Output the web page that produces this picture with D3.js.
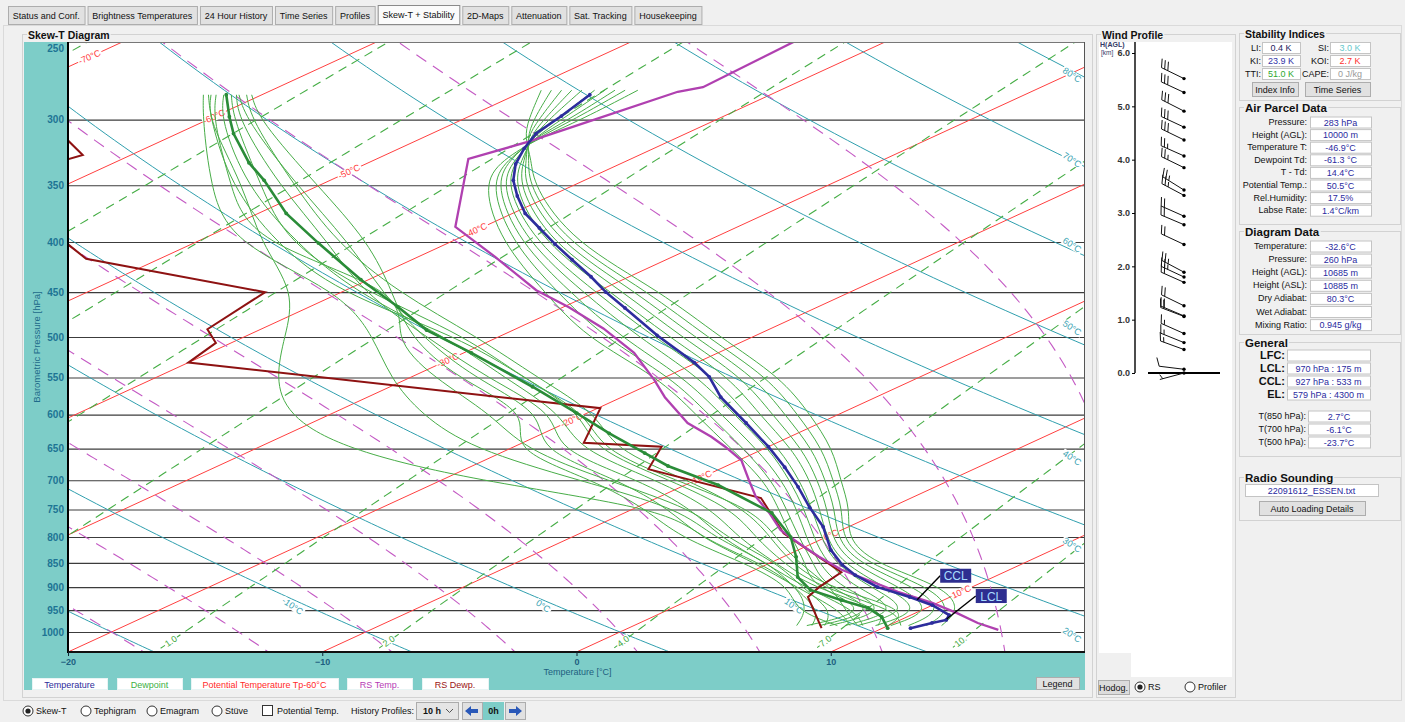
<!DOCTYPE html>
<html>
<head>
<meta charset="utf-8">
<title>Skew-T + Stability</title>
<script src="https://cdn.jsdelivr.net/npm/d3@7"></script>
<style>
  body { margin: 0; background: #f0f0f0; }
  svg { display: block; font-family: "Liberation Sans", Arial, sans-serif; }
</style>
</head>
<body>
<svg id="main" width="1405" height="722"></svg>
<script>

//********************* DATA ************************************

var tabs = ["Status and Conf.", "Brightness Temperatures", "24 Hour History", "Time Series", "Profiles",
            "Skew-T + Stability", "2D-Maps", "Attenuation", "Sat. Tracking", "Housekeeping"];
var activeTab = "Skew-T + Stability";

var pressureTicks = [250, 300, 350, 400, 450, 500, 550, 600, 650, 700, 750, 800, 850, 900, 950, 1000];
var tempTicks = [-20, -10, 0, 10];

var isotherms = [-110, -100, -90, -80, -70, -60, -50, -40, -30, -20, -10, 0, 10, 20];
var dryAdiabats = [-40, -30, -20, -10, 0, 10, 20, 30, 40, 50, 60, 70, 80, 90];
var moistAdiabats = [-20, -15, -10, -5, 0, 5, 10, 15, 20];
var mixingRatios = [0.01, 0.05, 0.1, 0.2, 0.4, 1, 2, 4, 7, 10];
var mixingLabels = [1, 2, 4, 7, 10];
var mixingLabelText = ["1.0", "2.0", "4.0", "7.0", "10."];

// current profile (temperature / dewpoint), hPa and degC
var tempP = [283, 297.5, 310, 321, 333, 346, 359, 374, 387, 402, 417, 434, 450, 467, 498, 531, 549, 576,
             612, 647, 679, 711, 746, 781, 825, 854, 875, 900, 921, 939, 961, 972, 979, 991];
var tempT = [-47.1, -46.4, -45.9, -45.1, -44.1, -42.8, -41.3, -39.5, -37.7, -35.7, -33.7, -31.5, -29.6, -27.5,
             -23.9, -20.1, -18.3, -16.1, -12.9, -10.0, -7.6, -5.4, -3.2, -1.0, 1.3, 3.0, 4.4, 6.3, 8.4, 10.0,
             11.5, 11.8, 11.5, 11.1];

var dewP = [283, 298, 310, 332, 346, 374, 401, 437, 466, 492, 519, 562, 598, 627, 657, 677, 708, 756, 800,
            838, 879, 906, 928, 945, 965, 991];
var dewT = [-61.4, -59.4, -57.8, -54.7, -52.6, -48.9, -45.1, -40.3, -36.5, -33.4, -29.7, -24.4, -20.4, -17.4,
            -14.3, -12.3, -8.7, -4.2, -1.4, 0.5, 2.3, 3.9, 6.0, 7.7, 9.0, 10.2];

// radio sounding
var rsTempP = [250, 278, 281, 300, 316, 329, 386, 414, 448, 466, 490, 519, 553, 576, 612, 632, 647, 668, 700,
               728, 756, 787, 811, 838, 864, 885, 910, 934, 956, 979, 995];
var rsTempT = [-43.6, -43.3, -43.9, -44.8, -45.5, -46.4, -41.1, -37.0, -32.5, -29.8, -26.6, -23.3, -20.2, -18.3,
               -15.2, -13.1, -11.7, -9.9, -7.9, -6.2, -4.3, -2.4, -0.6, 1.4, 3.4, 5.3, 7.5, 9.8, 11.6, 13.3, 14.7];

var rsDewP = [293, 326, 360, 399, 416, 450, 491, 507, 531, 591, 641, 647, 682, 730, 793, 869, 900, 921, 991];
var rsDewT = [-67.6, -61.9, -64.0, -55.3, -52.9, -43.0, -42.1, -40.6, -40.0, -19.9, -17.6, -14.2, -12.8, -5.9,
              -2.0, 3.6, 4.0, 4.4, 7.6];

// history profiles (10 h)
var histP = [280, 300, 313, 330, 350, 400, 450, 500, 550, 600, 650, 700, 750, 800, 850, 900, 950, 985];
var histTemp = [
  [-49.4, -47.4, -46.0, -43.8, -41.6, -35.2, -27.4, -21.3, -15.4, -11.1, -7.3, -4.3, -1.4, 0.8, 4.0, 9.0, 11.5, 12.1],
  [-49.0, -47.2, -45.9, -43.9, -41.8, -35.5, -27.9, -21.8, -15.9, -11.6, -7.7, -4.6, -1.7, 0.6, 3.7, 8.4, 11.2, 11.5],
  [-48.6, -47.0, -45.9, -44.0, -42.0, -35.8, -28.4, -22.3, -16.4, -12.1, -8.1, -4.9, -2.0, 0.4, 3.4, 7.8, 10.9, 10.8],
  [-48.2, -46.8, -45.8, -44.1, -42.2, -36.1, -28.9, -22.8, -16.9, -12.6, -8.5, -5.2, -2.3, 0.2, 3.1, 7.2, 10.5, 10.1],
  [-47.8, -46.6, -45.7, -44.2, -42.4, -36.4, -29.4, -23.3, -17.4, -13.1, -8.9, -5.5, -2.6, 0.0, 2.8, 6.6, 10.1, 9.5],
  [-47.3, -46.3, -45.7, -44.4, -42.7, -36.7, -30.0, -23.9, -18.0, -13.6, -9.4, -5.9, -2.9, -0.2, 2.5, 6.0, 9.7, 8.8],
  [-46.9, -46.1, -45.6, -44.5, -42.9, -37.0, -30.5, -24.5, -18.6, -14.1, -9.8, -6.3, -3.2, -0.5, 2.2, 5.4, 9.3, 8.3],
  [-46.5, -45.8, -45.6, -44.7, -43.1, -37.3, -31.0, -25.2, -19.2, -14.6, -10.3, -6.6, -3.5, -0.8, 1.9, 4.8, 8.9, 7.7],
  [-46.1, -45.6, -45.5, -44.8, -43.3, -37.6, -31.5, -25.9, -19.7, -15.1, -10.8, -7.0, -3.9, -1.1, 1.7, 4.2, 8.5, 7.3],
  [-45.6, -45.3, -45.4, -45.0, -43.6, -38.0, -32.0, -26.6, -20.2, -15.6, -11.3, -7.3, -4.2, -1.4, 1.4, 3.7, 8.2, 6.8]
];
var histDewP = [283, 300, 350, 400, 450, 500, 550, 600, 650, 700, 750, 800, 850, 900, 950, 985];
var histDew = [
  [-62.0, -60.0, -53.0, -47.5, -41.8, -38.4, -35.3, -31.7, -26.6, -18.8, -8.5, -5.0, -0.4, 3.2, 5.5, 6.4],
  [-62.3, -60.2, -54.3, -48.7, -40.0, -34.9, -30.8, -26.4, -21.5, -14.6, -8.0, -4.5, 0.0, 3.0, 6.0, 7.0],
  [-61.8, -59.8, -53.5, -47.9, -37.3, -34.2, -29.1, -23.6, -19.5, -13.5, -7.5, -4.0, 0.3, 3.3, 6.5, 7.5],
  [-60.4, -58.0, -50.1, -43.2, -38.0, -33.5, -28.2, -22.0, -20.1, -14.0, -9.4, -5.8, -1.0, 2.9, 5.0, 8.0],
  [-60.9, -58.5, -50.9, -44.0, -38.4, -33.0, -27.5, -21.5, -19.0, -13.0, -8.5, -5.0, -0.6, 3.1, 6.8, 8.5],
  [-61.0, -58.8, -51.6, -44.8, -39.2, -32.8, -27.0, -21.0, -18.3, -12.2, -7.6, -4.2, -0.2, 3.4, 7.4, 9.0],
  [-61.5, -59.5, -52.9, -46.1, -39.5, -32.0, -26.3, -20.8, -17.4, -11.5, -6.8, -3.5, 0.2, 3.7, 8.6, 9.6],
  [-62.1, -59.9, -53.5, -46.9, -40.2, -31.5, -25.5, -20.0, -16.8, -11.0, -6.0, -2.8, 0.5, 4.0, 9.0, 10.5],
  [-60.6, -58.3, -51.0, -44.5, -37.8, -30.8, -25.0, -19.4, -16.0, -10.3, -5.5, -2.2, 0.8, 4.3, 9.6, 10.0],
  [-61.2, -59.0, -52.3, -46.5, -39.0, -31.2, -25.6, -19.8, -16.5, -10.8, -5.2, -2.0, 1.1, 4.5, 7.0, 8.8]
];

var lclP = 970, cclP = 927;

// wind profile: height km, direction deg, speed kn
var windH = [5.52, 5.26, 4.91, 4.61, 4.37, 4.07, 3.85, 3.43, 3.33, 2.94, 2.78, 2.41, 1.89, 1.80, 1.70,
             1.26, 1.07, 1.06, 0.74, 0.57, 0.44, 0.07, 0.0];
var windDir = [296, 295, 297, 295, 296, 294, 296, 302, 298, 294, 293, 295, 298, 295, 294, 296, 293, 291,
               294, 292, 290, 277, 255];
var windSpd = [30, 30, 30, 30, 30, 25, 25, 25, 25, 20, 20, 20, 25, 25, 20, 20, 20, 20, 15, 15, 15, 10, 5];
var windTicks = [0, 1, 2, 3, 4, 5, 6];

var stability = [["LI:", "0.4 K", "#1c1c5c", "SI:", "3.0 K", "#66c8cc"],
                 ["KI:", "23.9 K", "#3434a8", "KOI:", "2.7 K", "#ff3030"],
                 ["TTI:", "51.0 K", "#2ea82e", "CAPE:", "0 J/kg", "#9a9a9a"]];
var parcelLabels = ["Pressure:", "Height (AGL):", "Temperature T:", "Dewpoint Td:", "T - Td:",
                    "Potential Temp.:", "Rel.Humidity:", "Labse Rate:"];
var parcelValues = ["283 hPa", "10000 m", "-46.9°C", "-61.3 °C", "14.4°C", "50.5°C", "17.5%", "1.4°C/km"];
var diagramLabels = ["Temperature:", "Pressure:", "Height (AGL):", "Height (ASL):", "Dry Adiabat:",
                     "Wet Adiabat:", "Mixing Ratio:"];
var diagramValues = ["-32.6°C", "260 hPa", "10685 m", "10885 m", "80.3°C", "", "0.945 g/kg"];
var levelLabels = ["LFC:", "LCL:", "CCL:", "EL:"];
var levelValues = ["", "970 hPa :   175 m", "927 hPa :   533 m", "579 hPa :  4300 m"];
var tLabels = ["T(850 hPa):", "T(700 hPa):", "T(500 hPa):"];
var tValues = ["2.7°C", "-6.1°C", "-23.7°C"];

var legendItems = ["Temperature", "Dewpoint", "Potential Temperature Tp-60°C", "RS Temp.", "RS Dewp."];
var legendColors = ["#2b2b9b", "#3cb043", "#ff2a2a", "#b53cb5", "#9a1414"];


//********************* HELPERS ************************************

var svg = d3.select("#main");

function txt(g, x, y, s, o) {
  o = o || {};
  return g.append("text").attr("x", x).attr("y", y).text(s)
      .attr("font-size", o.size || 9)
      .attr("font-weight", o.bold ? "bold" : null)
      .attr("fill", o.fill || "#111")
      .attr("text-anchor", o.anchor || "start")
      .attr("dominant-baseline", "central");
}

function button(g, x, y, w, h, s, o) {
  o = o || {};
  g.append("rect").attr("x", x + 0.5).attr("y", y + 0.5).attr("width", w).attr("height", h)
      .attr("fill", o.fill || "#e1e1e1").attr("stroke", o.stroke || "#adadad");
  if (s) txt(g, x + w / 2, y + h / 2 + 0.5, s, {anchor: "middle", size: o.size || 9, bold: o.bold, fill: o.color});
}

function field(g, x, y, w, h, s, color) {
  g.append("rect").attr("x", x + 0.5).attr("y", y + 0.5).attr("width", w).attr("height", h)
      .attr("fill", "#fff").attr("stroke", "#c4c4c4");
  txt(g, x + w / 2, y + h / 2 + 0.5, s, {anchor: "middle", fill: color || "#2a2aa0"});
}

function group(g, x, y, w, h, title, size) {
  g.append("rect").attr("x", x + 0.5).attr("y", y + 0.5).attr("width", w).attr("height", h)
      .attr("fill", "none").attr("stroke", "#d2d2d2");
  var t = txt(g, x + 6, y + 1, title, {bold: true, size: size || 10.5});
  var bb = t.node().getBBox();
  g.insert("rect", function() { return t.node(); })
      .attr("x", bb.x - 1).attr("y", bb.y).attr("width", bb.width + 2).attr("height", bb.height)
      .attr("fill", "#f0f0f0");
}

function radio(g, x, y, label, checked) {
  g.append("circle").attr("cx", x).attr("cy", y).attr("r", 5).attr("fill", "#fff").attr("stroke", "#333");
  if (checked) g.append("circle").attr("cx", x).attr("cy", y).attr("r", 2.6).attr("fill", "#222");
  txt(g, x + 8, y, label, {size: 9});
}


//********************* TABS / FRAMES ************************************

var chrome = svg.append("g");
var tabX = 8;
tabs.forEach(function(name) {
  var t = txt(chrome, 0, 0, name, {});
  var w = t.node().getComputedTextLength() + 9.5;
  t.remove();
  var on = name === activeTab;
  button(chrome, tabX, on ? 5 : 6, w, on ? 19 : 18, name, on ? {fill: "#fbfbfb", stroke: "#8a8a8a"} : {});
  tabX += w + 3;
});
chrome.append("rect").attr("x", 3.5).attr("y", 25.5).attr("width", 1398).attr("height", 675)
    .attr("fill", "none").attr("stroke", "#dadada");
group(chrome, 22, 34, 1070, 663, "Skew-T Diagram");


//********************* SKEW-T GEOMETRY ************************************

var plot = {left: 68, right: 1085, top: 42, bottom: 652};
var yScale = d3.scaleLog().domain([1000, 250]).range([632, 42]);
var xScale = d3.scaleLinear().domain([-20, 20]).range([68, 1085]);
var skew = 2.173;
var kappa = 0.2836;

function sx(t, p) { return xScale(t) + skew * (plot.bottom - yScale(p)); }

var refLine = d3.line()
    .x(function(d) { return sx(d[1], d[0]); })
    .y(function(d) { return yScale(d[0]); });

var sampleP = d3.range(1060, 239, -5);

function dryT(theta, p) { return (theta + 273.15) * Math.pow(p / 1000, kappa) - 273.15; }
function mixT(w, p) {
  var l = Math.log(w * p / (622 + w) / 6.112);
  return 243.5 * l / (17.67 - l);
}
function moistPath(t0) {
  var Rd = 287.04, cp = 1005.7, Lv = 2.501e6, eps = 0.622;
  function slope(T, p) {
    var es = 6.112 * Math.exp(17.67 * (T - 273.15) / (T - 273.15 + 243.5));
    var rs = eps * es / (p - es);
    return (Rd * T + Lv * rs) / (p * (cp + Lv * Lv * rs * eps / (Rd * T * T)));
  }
  function run(dp, stop) {
    var out = [], T = t0 + 273.15, p = 1000;
    out.push([p, t0]);
    while ((dp < 0 && p > stop) || (dp > 0 && p < stop)) {
      var k1 = slope(T, p), k2 = slope(T + k1 * dp, p + dp);
      T += 0.5 * (k1 + k2) * dp; p += dp;
      out.push([p, T - 273.15]);
    }
    return out;
  }
  return run(5, 1060).reverse().concat(run(-5, 240).slice(1));
}
function angleAt(fn, p) {
  var p2 = p * 0.97;
  return Math.atan2(yScale(p2) - yScale(p), sx(fn(p2), p2) - sx(fn(p), p)) * 180 / Math.PI;
}

var sk = svg.append("g");
sk.append("rect").attr("x", 24).attr("y", plot.top).attr("width", plot.left - 24).attr("height", plot.bottom - plot.top)
    .attr("fill", "#7dcdc8");
sk.append("rect").attr("x", 24).attr("y", plot.bottom).attr("width", plot.right - 24).attr("height", 38)
    .attr("fill", "#7dcdc8");
sk.append("rect").attr("x", plot.left).attr("y", plot.top).attr("width", plot.right - plot.left)
    .attr("height", plot.bottom - plot.top).attr("fill", "#fff");

svg.append("defs").append("clipPath").attr("id", "plotClip").append("rect")
    .attr("x", plot.left).attr("y", plot.top).attr("width", plot.right - plot.left)
    .attr("height", plot.bottom - plot.top);

var inner = sk.append("g").attr("clip-path", "url(#plotClip)");

// pressure grid
inner.append("g").attr("transform", "translate(" + plot.left + ",0)")
    .call(d3.axisLeft(yScale).tickValues(pressureTicks).tickSize(-(plot.right - plot.left)).tickFormat(""))
    .call(function(g) { g.select(".domain").remove(); })
    .selectAll("line").attr("stroke", "#3c3c3c").attr("stroke-width", 1.1);

// isotherms
inner.append("g").selectAll("path").data(isotherms).enter().append("path")
    .attr("d", function(t) { return refLine([[1060, t], [240, t]]); })
    .attr("fill", "none").attr("stroke", "#ff4040").attr("stroke-width", 1);

// dry adiabats
inner.append("g").selectAll("path").data(dryAdiabats).enter().append("path")
    .attr("d", function(th) { return refLine(sampleP.map(function(p) { return [p, dryT(th, p)]; })); })
    .attr("fill", "none").attr("stroke", "#2f9fae").attr("stroke-width", 1);

// moist adiabats
inner.append("g").selectAll("path").data(moistAdiabats).enter().append("path")
    .attr("d", function(t0) { return refLine(moistPath(t0)); })
    .attr("fill", "none").attr("stroke", "#c45ac4").attr("stroke-width", 1.1).attr("stroke-dasharray", "12,8");

// mixing ratio
inner.append("g").selectAll("path").data(mixingRatios).enter().append("path")
    .attr("d", function(w) { return refLine(sampleP.map(function(p) { return [p, mixT(w, p)]; })); })
    .attr("fill", "none").attr("stroke", "#45ad45").attr("stroke-width", 1.1).attr("stroke-dasharray", "9,6");

// labels on the background lines
function lineLabel(x, y, angle, s, color, bg) {
  var lg = inner.append("g").attr("transform", "translate(" + x + "," + y + ") rotate(" + angle + ")");
  var t = txt(lg, 0, 0, s, {anchor: "middle", fill: color, size: 9});
  if (bg) {
    var bb = t.node().getBBox();
    lg.insert("rect", function() { return t.node(); }).attr("x", bb.x - 1).attr("y", bb.y + 1)
        .attr("width", bb.width + 2).attr("height", bb.height - 2).attr("fill", "#fff");
  }
}
var isoLabelP = {"-70": 259, "-60": 298, "-50": 339, "-40": 389, "-30": 528, "-20": 608, "-10": 696, "0": 796, "10": 910};
Object.keys(isoLabelP).forEach(function(k) {
  var t = +k, p = isoLabelP[k];
  lineLabel(sx(t, p), yScale(p), angleAt(function() { return t; }, p), t + "°C", "#ff3a3a", true);
});
mixingLabels.forEach(function(w, i) {
  var p = 1022;
  lineLabel(sx(mixT(w, p), p), yScale(p), angleAt(function(pp) { return mixT(w, pp); }, p),
            mixingLabelText[i], "#3ea83e", true);
});
[-10, 0, 10].forEach(function(th) {
  var p = 950, x = sx(dryT(th, p), p) - 24;
  lineLabel(x, yScale(p) - 4, 35, th + "°C", "#3aa3b3", true);
});
var edgeLabelY = {80: 75, 70: 160, 60: 245, 50: 328, 40: 458, 30: 545, 20: 635};
Object.keys(edgeLabelY).forEach(function(k) {
  lineLabel(1072, edgeLabelY[k], 33, k + "°C", "#3aa3b3", true);
});

// history profiles
var histLine = d3.line()
    .x(function(d) { return sx(d[1], d[0]); })
    .y(function(d) { return yScale(d[0]); })
    .curve(d3.curveBasis);
inner.append("g").selectAll("path").data(histTemp).enter().append("path")
    .attr("d", function(row) { return histLine(row.map(function(t, i) { return [histP[i], t]; })); })
    .attr("fill", "none").attr("stroke", "#48ad48").attr("stroke-width", 1);
inner.append("g").selectAll("path").data(histDew).enter().append("path")
    .attr("d", function(row) { return histLine(row.map(function(t, i) { return [histDewP[i], t]; })); })
    .attr("fill", "none").attr("stroke", "#48ad48").attr("stroke-width", 1);

function pairs(P, T) { return P.map(function(p, i) { return [p, T[i]]; }); }

// radio sounding
inner.append("path").attr("d", refLine(pairs(rsDewP, rsDewT)))
    .attr("fill", "none").attr("stroke", "#8e1212").attr("stroke-width", 2);
inner.append("path").attr("d", refLine(pairs(rsTempP, rsTempT)))
    .attr("fill", "none").attr("stroke", "#b040b0").attr("stroke-width", 2.3);

// current dewpoint and temperature
function profile(P, T, color) {
  var d = pairs(P, T);
  inner.append("path").attr("d", refLine(d)).attr("fill", "none").attr("stroke", color).attr("stroke-width", 2.6);
  inner.append("g").selectAll("circle").data(d).enter().append("circle")
      .attr("cx", function(v) { return sx(v[1], v[0]); })
      .attr("cy", function(v) { return yScale(v[0]); })
      .attr("r", 1.9).attr("fill", color);
}
profile(dewP, dewT, "#2a8c38");
profile(tempP, tempT, "#2d2d9d");

// LCL / CCL markers
var tempAt = d3.scaleLinear().domain(tempP).range(tempT);
function levelMark(p, s, dx, dy) {
  var x0 = sx(tempAt(p), p), y0 = yScale(p);
  inner.append("line").attr("x1", x0).attr("y1", y0).attr("x2", x0 + dx).attr("y2", y0 + dy)
      .attr("stroke", "#000").attr("stroke-width", 1.4);
  inner.append("rect").attr("x", x0 + dx).attr("y", y0 + dy - 7).attr("width", 31).attr("height", 14)
      .attr("fill", "#2e2e90");
  txt(inner, x0 + dx + 15.5, y0 + dy + 0.5, s, {anchor: "middle", size: 12, fill: "#a8dcff"});
}
levelMark(cclP, "CCL", 23, -24);
levelMark(lclP, "LCL", 29, -23);

// frame
sk.append("line").attr("x1", plot.left).attr("x2", plot.right).attr("y1", plot.top + 0.5).attr("y2", plot.top + 0.5)
    .attr("stroke", "#777");
sk.append("line").attr("x1", plot.right - 0.5).attr("x2", plot.right - 0.5).attr("y1", plot.top).attr("y2", plot.bottom)
    .attr("stroke", "#555");
sk.append("line").attr("x1", plot.left).attr("x2", plot.left).attr("y1", plot.top).attr("y2", plot.bottom + 1)
    .attr("stroke", "#000").attr("stroke-width", 2);
sk.append("line").attr("x1", plot.left).attr("x2", plot.right).attr("y1", plot.bottom).attr("y2", plot.bottom)
    .attr("stroke", "#111").attr("stroke-width", 2);

// axes
var yAx = sk.append("g").attr("transform", "translate(" + (plot.left - 2) + ",0)")
    .call(d3.axisLeft(yScale).tickValues(pressureTicks).tickSize(0).tickPadding(2).tickFormat(d3.format("d")));
yAx.select(".domain").remove();
yAx.selectAll("text").attr("font-size", 10).attr("font-weight", "bold").attr("fill", "#1d7494")
    .attr("font-family", "'Liberation Sans', Arial, sans-serif")
    .attr("dy", function(p) { return p === 250 ? "0.9em" : "0.32em"; });

var xAx = sk.append("g").attr("transform", "translate(0," + plot.bottom + ")")
    .call(d3.axisBottom(xScale).tickValues(tempTicks).tickSize(4).tickPadding(3));
xAx.select(".domain").remove();
xAx.selectAll("line").attr("stroke", "#123");
xAx.selectAll("text").attr("font-size", 9).attr("font-weight", "bold").attr("fill", "#1d5f80")
    .attr("font-family", "'Liberation Sans', Arial, sans-serif");

txt(sk, xScale(0) + 1, 672, "Temperature [°C]", {anchor: "middle", size: 9, fill: "#1d5f80"});
txt(sk, 0, 0, "Barometric Pressure [hPa]", {anchor: "middle", size: 9.5, fill: "#1d6a8a"})
    .attr("transform", "translate(36,347) rotate(-90)");

// legend row (box x / width)
var legendBoxes = [[32, 75], [117, 65], [191, 147], [347, 65], [422, 66]];
legendItems.forEach(function(s, i) {
  var bx = legendBoxes[i][0], bw = legendBoxes[i][1];
  sk.append("rect").attr("x", bx + 0.5).attr("y", 678.5).attr("width", bw).attr("height", 11).attr("fill", "#fff")
      .attr("stroke", "#e8f4f4");
  txt(sk, bx + bw / 2, 684.5, s, {anchor: "middle", size: 9, fill: legendColors[i]});
});
button(sk, 1036, 677, 43, 12, "Legend", {});


//********************* WIND PROFILE ************************************

var wp = svg.append("g");
group(wp, 1096, 34, 139, 663, "Wind Profile");
wp.append("path").attr("d", "M1099,42H1232V677H1131V653H1099Z").attr("fill", "#fff");
var yH = d3.scaleLinear().domain([0, 6]).range([373, 53]);
var hAx = wp.append("g").attr("transform", "translate(1135,0)")
    .call(d3.axisLeft(yH).tickValues(windTicks).tickSize(3).tickPadding(2).tickFormat(d3.format(".1f")));
hAx.select(".domain").attr("d", "M0,42V373").attr("stroke", "#111").attr("stroke-width", 1.5);
hAx.selectAll("text").attr("font-size", 9).attr("font-weight", "bold").attr("fill", "#333")
    .attr("font-family", "'Liberation Sans', Arial, sans-serif");
txt(wp, 1100, 44.5, "H(AGL)", {size: 7, bold: true, fill: "#333a66"});
txt(wp, 1101, 52.5, "[km]", {size: 6.5, fill: "#333a66"});
wp.append("line").attr("x1", 1148).attr("x2", 1220).attr("y1", yH(0)).attr("y2", yH(0))
    .attr("stroke", "#000").attr("stroke-width", 2);

function barb(g, x, y, dir, spd) {
  var a = dir * Math.PI / 180, ux = Math.sin(a), uy = -Math.cos(a);
  var L = 25, ex = x + ux * L, ey = y + uy * L;
  var b = g.append("g").attr("stroke", "#111").attr("stroke-width", 1);
  b.append("line").attr("x1", x).attr("y1", y).attr("x2", ex).attr("y2", ey);
  var fa = (dir + 68) * Math.PI / 180, fx = Math.sin(fa), fy = -Math.cos(fa);
  var s = spd, pos = 0;
  while (s >= 10) {
    var bx = ex - ux * pos, by = ey - uy * pos;
    b.append("line").attr("x1", bx).attr("y1", by).attr("x2", bx + fx * 9).attr("y2", by + fy * 9);
    pos += 3.5; s -= 10;
  }
  if (s >= 5) {
    var hx = ex - ux * (pos + (pos ? 0 : 3)), hy = ey - uy * (pos + (pos ? 0 : 3));
    b.append("line").attr("x1", hx).attr("y1", hy).attr("x2", hx + fx * 5).attr("y2", hy + fy * 5);
  }
  g.append("circle").attr("cx", x).attr("cy", y).attr("r", 1.7).attr("fill", "#000");
}
windH.forEach(function(h, i) { barb(wp, 1184, yH(h), windDir[i], windSpd[i]); });

button(wp, 1098, 680, 31, 14, "Hodog.", {fill: "#dcdcdc"});
radio(wp, 1140, 687, "RS", true);
radio(wp, 1190, 687, "Profiler", false);


//********************* RIGHT PANELS ************************************

var rp = svg.append("g");
group(rp, 1239, 33, 161, 67, "Stability Indices");
stability.forEach(function(r, i) {
  var y = 42 + i * 13;
  txt(rp, 1261, y + 6, r[0], {anchor: "end"});
  field(rp, 1262, y, 38, 11, r[1], r[2]);
  txt(rp, 1329, y + 6, r[3], {anchor: "end"});
  field(rp, 1330, y, 40, 11, r[4], r[5]);
});
button(rp, 1252, 82, 46, 14, "Index Info", {});
button(rp, 1305, 82, 65, 14, "Time Series", {});

group(rp, 1239, 107, 161, 117, "Air Parcel Data", 11.5);
parcelLabels.forEach(function(s, i) {
  var y = 122 + i * 12.6;
  txt(rp, 1307, y, s, {anchor: "end"});
  field(rp, 1310, y - 5.5, 61, 11, parcelValues[i]);
});

group(rp, 1239, 231, 161, 103, "Diagram Data", 11.5);
diagramLabels.forEach(function(s, i) {
  var y = 246 + i * 13.1;
  txt(rp, 1307, y, s, {anchor: "end"});
  field(rp, 1310, y - 5.5, 61, 11, diagramValues[i]);
});

group(rp, 1239, 342, 161, 114, "General", 11.5);
levelLabels.forEach(function(s, i) {
  var y = 355 + i * 13;
  txt(rp, 1285, y, s, {anchor: "end", bold: true, size: 11});
  field(rp, 1287, y - 5.5, 83, 11, levelValues[i]);
});
tLabels.forEach(function(s, i) {
  var y = 416 + i * 13;
  txt(rp, 1306, y, s, {anchor: "end"});
  field(rp, 1308, y - 5.5, 62, 11, tValues[i]);
});

group(rp, 1239, 477, 161, 43, "Radio Sounding", 11.5);
field(rp, 1245, 484, 133, 12, "22091612_ESSEN.txt");
button(rp, 1259, 501, 106, 14, "Auto Loading Details", {});


//********************* BOTTOM CONTROLS ************************************

var bc = svg.append("g");
radio(bc, 28, 711, "Skew-T", true);
radio(bc, 86, 711, "Tephigram", false);
radio(bc, 152, 711, "Emagram", false);
radio(bc, 217, 711, "Stüve", false);
bc.append("rect").attr("x", 262.5).attr("y", 705.5).attr("width", 10).attr("height", 10)
    .attr("fill", "#fff").attr("stroke", "#333");
txt(bc, 277, 711, "Potential Temp.", {size: 9});
txt(bc, 351, 711, "History Profiles:", {size: 9});
button(bc, 416, 702, 42, 17, "", {fill: "#e5e5e5", stroke: "#acacac"});
txt(bc, 423, 711, "10 h", {size: 9, bold: true});
bc.append("path").attr("d", "M446,709l3.5,3.5l3.5,-3.5").attr("fill", "none").attr("stroke", "#555");
button(bc, 462, 702, 20, 17, "", {});
bc.append("path").attr("d", "M465,711l6,-5v3h7v4h-7v3z").attr("fill", "#2a58b8");
bc.append("rect").attr("x", 483).attr("y", 702).attr("width", 21).attr("height", 18).attr("fill", "#7dcdc8");
txt(bc, 493.5, 711, "0h", {anchor: "middle", bold: true, size: 9});
button(bc, 505, 702, 20, 17, "", {});
bc.append("path").attr("d", "M522,711l-6,-5v3h-7v4h7v3z").attr("fill", "#2a58b8");

</script>
</body>
</html>
